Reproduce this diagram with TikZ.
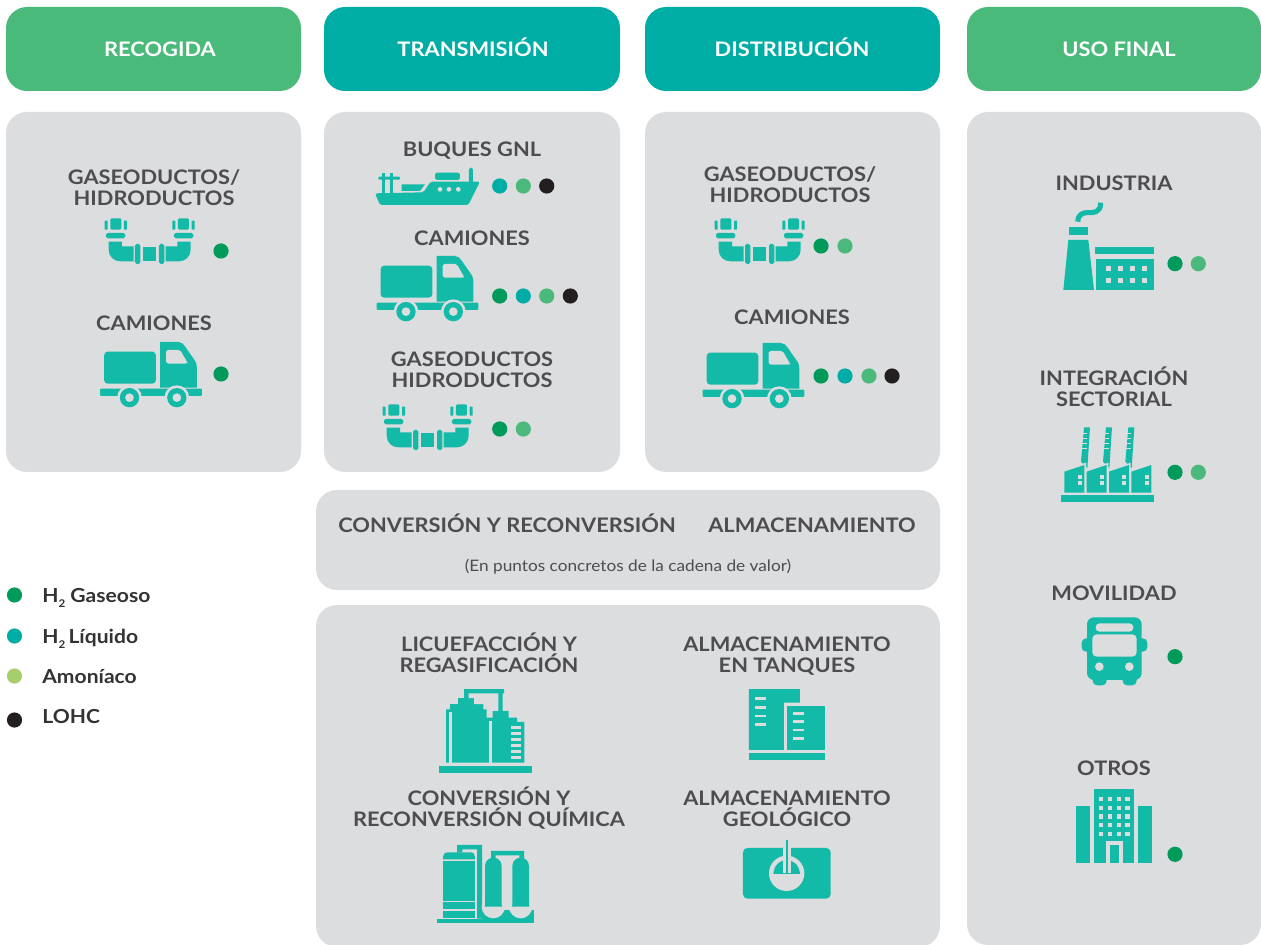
\documentclass[tikz,border=0pt]{standalone}
\usepackage{fontspec}
\setmainfont[FakeStretch=1.09]{Lato}
\definecolor{panelgray}{HTML}{DCDDDF}
\definecolor{txtdark}{HTML}{4D4D4F}
\definecolor{legtxt}{HTML}{333234}
\definecolor{icon}{HTML}{14BAA8}
\definecolor{hgreen}{HTML}{4ABA7B}
\definecolor{hteal}{HTML}{00ADA5}
\definecolor{dgas}{HTML}{009A5B}
\definecolor{dliq}{HTML}{00ADA6}
\definecolor{damo}{HTML}{4CB97C}
\definecolor{dleg}{HTML}{A6CE6A}
\definecolor{dblk}{HTML}{231F20}
\newcommand{\pdot}[3]{\fill[#1] (#2,#3) circle (7.6);}
\newcommand{\subtwo}{\raisebox{-0.55ex}{\scalebox{.55}{2}}}
\newcommand{\twolines}[2]{\vphantom{Ó}#1\\#2\vphantom{Q}}
\tikzset{
 zu/.style={x=0.0066667cm,y=-0.0066667cm},
 evenline/.style={execute at begin node=\vphantom{Ó},execute at end node=\vphantom{Q}},
 lbl/.style={evenline,font=\fontsize{11.4}{12}\selectfont\bfseries,text=txtdark,align=center,inner sep=0pt},
 lbltwo/.style={font=\fontsize{11.4}{12}\selectfont\bfseries,text=txtdark,align=center,inner sep=0pt},
 head/.style={evenline,font=\fontsize{11.4}{12}\selectfont\bfseries,text=white,align=center,inner sep=0pt},
 leg/.style={evenline,font=\fontsize{11}{12}\selectfont\bfseries,text=legtxt,anchor=west,inner sep=0pt},
 icontruck/.pic={\begin{scope}[zu]
  \fill[icon,rounded corners=2pt] (122,407) rectangle (277,503);
  \fill[icon] (290,515)--(290,378)--(345,378) .. controls (355,378) and (360,385) .. (365,392)--(395,435) .. controls (400,445) and (400,450) .. (400,455)--(400,515)--cycle;
  \fill[panelgray,rounded corners=1pt] (308,402)--(350,402)--(372,440)--(372,443)--(308,443)--cycle;
  \fill[icon,rounded corners=.5pt] (110,518) rectangle (415,540);
  \foreach \wx in {198,340}{
   \fill[panelgray] (\wx,545) circle (37);
   \fill[icon] (\wx,545) circle (29);
   \fill[panelgray] (\wx,545) circle (13);}
 \end{scope}},
 iconpipe/.pic={\begin{scope}[zu]
  \foreach \m/\o in {1/0,-1/526}{
  \begin{scope}[xshift={\o*0.0066667cm},x={\m*0.0066667cm}]
   \fill[icon,rounded corners=.7pt] (145,823) rectangle (178,857);
   \fill[icon,rounded corners=.3pt] (128,830) rectangle (137,857);
   \fill[icon,rounded corners=.3pt] (186,830) rectangle (195,857);
   \fill[icon,rounded corners=1pt] (132,867) rectangle (190,883);
   \fill[icon] (140,893)--(180,893)--(180,907)--(215,907)--(215,952)--(175,952) .. controls (155,952) and (140,937) .. (140,917)--cycle;
   \fill[icon,rounded corners=1pt] (219,900) rectangle (235,960);
  \end{scope}}
  \fill[icon] (243,908) rectangle (282,952);
 \end{scope}},
}
\begin{document}
\begin{tikzpicture}[x=0.02cm,y=-0.02cm]
\useasboundingbox (0,0) rectangle (1261,945);
\fill[white] (0,0) rectangle (1261,945);
% headers
\fill[hgreen,rounded corners=12pt] (6,7) rectangle (301,91);
\fill[hteal,rounded corners=12pt] (324,7) rectangle (620,91);
\fill[hteal,rounded corners=12pt] (645,7) rectangle (940,91);
\fill[hgreen,rounded corners=12pt] (967,7) rectangle (1261,91);
\node[head] (hrec) at (160,49) {RECOGIDA};
\node[head] (htra) at (473,49) {TRANSMISIÓN};
\node[head] (hdis) at (792,49) {DISTRIBUCIÓN};
\node[head] (huso) at (1119,49) {USO FINAL};
% panels
\fill[panelgray,rounded corners=12pt] (6,112) rectangle (301,472);
\fill[panelgray,rounded corners=12pt] (324,112) rectangle (620,472);
\fill[panelgray,rounded corners=12pt] (645,112) rectangle (940,472);
\fill[panelgray,rounded corners=12pt] (967,112) rectangle (1261,945);
\fill[panelgray,rounded corners=12pt] (316,490) rectangle (940,590);
\fill[panelgray,rounded corners=12pt] (316,605) rectangle (940,947);
% labels
\node[lbltwo] (a1) at (154,187) {\twolines{GASEODUCTOS/}{HIDRODUCTOS}};
\node[lbl] (a2) at (154,323) {CAMIONES};
\node[lbl] (b1) at (472,149) {BUQUES GNL};
\node[lbl] (b2) at (472,238) {CAMIONES};
\node[lbltwo] (b3) at (472,369) {\twolines{GASEODUCTOS}{HIDRODUCTOS}};
\node[lbltwo] (c1) at (790,184) {\twolines{GASEODUCTOS/}{HIDRODUCTOS}};
\node[lbl] (c2) at (792,317) {CAMIONES};
\node[lbl] (d1) at (1114,183) {INDUSTRIA};
\node[lbltwo] (d2) at (1114,388) {\twolines{INTEGRACIÓN}{SECTORIAL}};
\node[lbl] (d3) at (1114,593) {MOVILIDAD};
\node[lbl] (d4) at (1114,768) {OTROS};
\node[lbl] (e1) at (507,525) {CONVERSIÓN Y RECONVERSIÓN};
\node[lbl] (e2) at (812,525) {ALMACENAMIENTO};
\node[lbl,font=\fontsize{9}{10}\selectfont\mdseries] (e3) at (628,566) {(En puntos concretos de la cadena de valor)};
\node[lbltwo] (f1) at (489,654) {\twolines{LICUEFACCIÓN Y}{REGASIFICACIÓN}};
\node[lbltwo] (f2) at (787,654) {\twolines{ALMACENAMIENTO}{EN TANQUES}};
\node[lbltwo] (f3) at (489,808) {\twolines{CONVERSIÓN Y}{RECONVERSIÓN QUÍMICA}};
\node[lbltwo] (f4) at (787,808) {\twolines{ALMACENAMIENTO}{GEOLÓGICO}};
% legend
\pdot{dgas}{14.5}{595}\pdot{dliq}{14.5}{636}\pdot{dleg}{14.5}{676}\pdot{dblk}{14.5}{720}
\node[leg] (l1) at (42,596) {H\subtwo\ Gaseoso};
\node[leg] (l2) at (42,637) {H\subtwo\,Líquido};
\node[leg] (l3) at (42,676) {Amoníaco};
\node[leg] (l4) at (42,716) {LOHC};
% dots
\pdot{dgas}{221}{251}\pdot{dgas}{221}{374}
\pdot{dliq}{499.7}{186}\pdot{damo}{523.3}{186}\pdot{dblk}{546.7}{186}
\pdot{dgas}{499.7}{296}\pdot{dliq}{523.3}{296}\pdot{damo}{546.7}{296}\pdot{dblk}{570.3}{296}
\pdot{dgas}{499.7}{429}\pdot{damo}{523.3}{429}
\pdot{dgas}{821}{246}\pdot{damo}{845}{246}
\pdot{dgas}{821}{376}\pdot{dliq}{845}{376}\pdot{damo}{869}{376}\pdot{dblk}{892}{376}
\pdot{dgas}{1175}{263.7}\pdot{damo}{1198.3}{263.7}
\pdot{dgas}{1175}{472.3}\pdot{damo}{1198.3}{472.3}
\pdot{dgas}{1175}{656.7}\pdot{dgas}{1175}{854.3}
% trucks and pipes
\pic at (340,130) {icontruck};
\pic at (63.5,216) {icontruck};
\pic at (666,217) {icontruck};
\pic at (340,130) {iconpipe};
\pic at (62,-56) {iconpipe};
\pic at (672,-56) {iconpipe};
% ship
\begin{scope}[shift={(340,130)},zu]
 \fill[icon,rounded corners=1pt] (105,190)--(250,187)--(272,155)--(420,155)--(385,225)--(120,225)--cycle;
 \fill[icon,rounded corners=1pt] (285,128) rectangle (360,150);
 \fill[icon,rounded corners=1pt] (387,113) rectangle (399,160);
 \fill[icon,rounded corners=.5pt] (115,140) rectangle (180,149);
 \fill[icon] (125,130) rectangle (135,190);
 \fill[icon] (150,130) rectangle (160,190);
 \fill[icon] (185,163)--(255,163)--(240,183)--(185,183)--cycle;
 \foreach \wx in {300,327,355} \fill[panelgray] (\wx,178) circle (7);
\end{scope}
% factory
\begin{scope}[shift={(1030,190)},zu]
 \fill[icon] (115,150)--(175,150)--(192,300)--(100,300)--cycle;
 \fill[icon] (118,111) rectangle (175,134);
 \draw[icon,line width=2.9pt] (143,95) .. controls (143,78) and (155,68) .. (170,68) .. controls (190,68) and (212,70) .. (212,38);
 \fill[icon] (195,172) rectangle (372,191);
 \fill[icon] (198,207) rectangle (372,300);
 \foreach \wx in {236,272,308,344} \foreach \wy in {235,271}
  \fill[panelgray] (\wx-8,\wy-8) rectangle (\wx+8,\wy+8);
 % sector integration
 \fill[icon] (93,915) rectangle (372,936);
 \foreach \dx in {0,66,133}{
  \fill[icon] (\dx+162,712)--(\dx+180,712)--(\dx+172,835)--(\dx+153,815)--cycle;
  \foreach \ry in {730,745,760,775}
   \fill[panelgray] (\dx+155,\ry)rectangle(\dx+170,\ry+3);}
 \foreach \dx in {0,67,134,201}{
  \fill[panelgray] (\dx+100,843)--(\dx+168,818)--(\dx+168,912)--(\dx+100,912)--cycle;
  \fill[icon] (\dx+103,845)--(\dx+163,825)--(\dx+163,908)--(\dx+103,908)--cycle;
  \fill[panelgray] (\dx+143,854) rectangle (\dx+155,866);
  \fill[panelgray] (\dx+143,874) rectangle (\dx+155,886);}
\end{scope}
% bus and building
\begin{scope}[shift={(1060,600)},zu]
 \fill[icon,rounded corners=2.5pt] (98,215) rectangle (140,256);
 \fill[icon,rounded corners=2.5pt] (188,215) rectangle (230,256);
 \fill[icon,rounded corners=2.5pt] (65,115) rectangle (100,155);
 \fill[icon,rounded corners=2.5pt] (228,115) rectangle (262,155);
 \fill[icon,rounded corners=4pt] (81,52) rectangle (245,240);
 \fill[panelgray,rounded corners=2.2pt] (107,70) rectangle (220,95);
 \fill[panelgray,rounded corners=2.5pt] (97,103) rectangle (230,170);
 \fill[panelgray] (118,200) circle (13);
 \fill[panelgray] (208,200) circle (13);
 \fill[icon] (48,618) rectangle (90,788);
 \fill[icon] (234,618) rectangle (276,788);
 \fill[icon] (103,566) rectangle (222,788);
 \foreach \wx in {123,149,176,202} \foreach \wy in {598,624,650,676,702}
  \fill[panelgray] (\wx-6.5,\wy-6.5) rectangle (\wx+6.5,\wy+6.5);
 \fill[panelgray] (137,722) rectangle (190,788);
 \fill[icon] (150,735) rectangle (177,788);
\end{scope}
% plants
\begin{scope}[shift={(420,680)},zu]
 % liquefaction
 \fill[icon] (57,258) rectangle (336,278);
 \fill[icon] (78,248)--(78,88)--(90,88)--(90,72)--(114,72)--(114,54)--(132,54)--(132,27)--(252,27)--(252,40)--(248,40)--(248,93)--(266,93)--(266,113)--(291,113)--(291,126)--(313,126)--(313,248)--cycle;
 \fill[panelgray] (146,40)--(235,40)--(235,93)--(218,93)--(218,113)--(200,113)--(200,88)--(190,88)--(190,72)--(162,72)--(162,54)--(146,54)--cycle;
 \fill[panelgray] (88,97) rectangle (97,248);
 \fill[panelgray] (207,122) rectangle (217,248);
 \foreach \ry in {142,160,178,196,214,233}
  \fill[panelgray] (274,\ry-4) rectangle (302,\ry+4);
 % tanks
 \fill[icon] (987,219) rectangle (1215,240);
 \fill[icon] (987,27)--(1140,27)--(1140,68)--(1092,68)--(1092,210)--(987,210)--cycle;
 \fill[icon] (1102,78) rectangle (1214,210);
 \foreach \ry in {56,82,108,134} \fill[panelgray] (1006,\ry-4) rectangle (1038,\ry+4);
 \foreach \ry in {100,125,150,175} \fill[panelgray] (1119,\ry-4) rectangle (1152,\ry+4);
 % chemical conversion
 \fill[icon] (51,716) rectangle (342,728);
 \fill[icon] (186,690) rectangle (342,716);
 \fill[icon] (69,538)--(69,530) .. controls (69,522) and (75,517) .. (85,517)--(150,517) .. controls (160,517) and (165,522) .. (165,530)--(165,538)--cycle;
 \fill[icon] (69,543) rectangle (165,662);
 \fill[icon] (69,666) rectangle (165,688);
 \fill[icon] (69,693) rectangle (165,714);
 \fill[icon] (111,517)--(111,495)--(186,495)--(186,716)--(171,716)--(171,508)--(127,508)--(127,517)--cycle;
 \fill[icon] (213,535)--(213,513)--(312,513)--(312,535)--(298,535)--(298,526)--(227,526)--(227,535)--cycle;
 \foreach \bx in {220,302}{
  \fill[panelgray] (\bx,680) circle (35);
  \fill[icon] (\bx-25,672)--(\bx-25,558) .. controls (\bx-25,540) and (\bx-10,533) .. (\bx,533) .. controls (\bx+10,533) and (\bx+25,540) .. (\bx+25,558)--(\bx+25,672)--cycle;
  \fill[icon] (\bx-26,680) arc[start angle=180,end angle=360,radius=26];}
 % geological
 \fill[icon,rounded corners=2.5pt] (969,504) rectangle (1232,656);
 \fill[panelgray] (1100,580) circle (53);
 \fill[icon] (1060,582) .. controls (1062,555) and (1080,540) .. (1100,540) .. controls (1120,540) and (1138,555) .. (1140,582)--cycle;
 \fill[panelgray] (1090,500) rectangle (1112,580);
 \fill[icon] (1098,480) rectangle (1104,580);
\end{scope}
\end{tikzpicture}
\end{document}
